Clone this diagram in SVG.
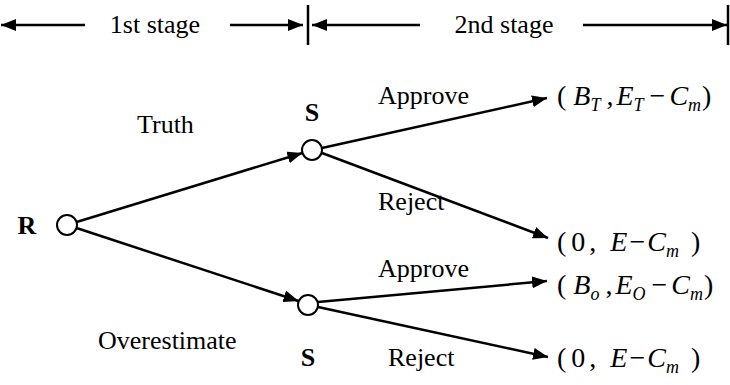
<svg xmlns="http://www.w3.org/2000/svg" width="730" height="385" viewBox="0 0 730 385">
<style>
text{font-family:"Liberation Serif","Times New Roman",serif;font-size:26px;fill:#000}
.b{font-weight:bold}
.i{font-style:italic}
.pay{font-size:28px}
.sub{font-size:18px;font-style:italic}
.ln{stroke:#000;stroke-width:2.5;fill:none}
.nd{fill:#fff;stroke:#000;stroke-width:2}
</style>
<defs>
<marker id="ah" markerUnits="userSpaceOnUse" markerWidth="16" markerHeight="12" refX="15" refY="6" orient="auto">
<path d="M0,0 L15,6 L0,12 Z" fill="#000"/>
</marker>
</defs>
<g id="stages">
<line class="ln" x1="85" y1="25" x2="1" y2="25" marker-end="url(#ah)"/>
<text x="155" y="33" text-anchor="middle">1st stage</text>
<line class="ln" x1="230" y1="25" x2="303" y2="25" marker-end="url(#ah)"/>
<line class="ln" x1="308" y1="5" x2="308" y2="45"/>
<line class="ln" x1="420" y1="25" x2="312" y2="25" marker-end="url(#ah)"/>
<text x="504" y="33" text-anchor="middle">2nd stage</text>
<line class="ln" x1="583" y1="25" x2="727" y2="25" marker-end="url(#ah)"/>
<line class="ln" x1="728" y1="5" x2="728" y2="45"/>
</g>
<g id="connectors">
<line class="ln" x1="76.6" y1="222" x2="302.4" y2="153" marker-end="url(#ah)"/>
<line class="ln" x1="76.5" y1="228" x2="298.5" y2="301" marker-end="url(#ah)"/>
<line class="ln" x1="322" y1="148" x2="547" y2="98" marker-end="url(#ah)"/>
<line class="ln" x1="322" y1="153" x2="548" y2="238" marker-end="url(#ah)"/>
<line class="ln" x1="318" y1="302" x2="547" y2="281" marker-end="url(#ah)"/>
<line class="ln" x1="318" y1="307" x2="548" y2="357" marker-end="url(#ah)"/>
<text x="137" y="133">Truth</text>
<text x="378" y="104">Approve</text>
<text x="378" y="210">Reject</text>
<text x="378" y="277">Approve</text>
<text x="98" y="349">Overestimate</text>
<text x="388" y="366">Reject</text>
</g>
<g id="node-R">
<circle class="nd" cx="67" cy="225" r="10"/>
<text class="b" x="27" y="234" text-anchor="middle">R</text>
</g>
<g id="node-S1">
<circle class="nd" cx="312" cy="150" r="10"/>
<text class="b" x="312" y="121" text-anchor="middle">S</text>
</g>
<g id="node-S2">
<circle class="nd" cx="308" cy="305" r="10"/>
<text class="b" x="308" y="366" text-anchor="middle">S</text>
</g>
<g id="payoff-1">
<text class="pay" x="557" y="105">(<tspan dx="7" class="i">B</tspan><tspan class="sub" dy="6">T</tspan><tspan dy="-6" dx="6">,</tspan><tspan dx="3" class="i">E</tspan><tspan class="sub" dy="6">T</tspan><tspan dy="-6" dx="6">−</tspan><tspan dx="4" class="i">C</tspan><tspan class="sub" dy="6">m</tspan><tspan dy="-6" dx="1">)</tspan></text>
</g>
<g id="payoff-2">
<text class="pay" x="557" y="251">(<tspan dx="5">0</tspan><tspan dx="4">,</tspan><tspan dx="14" class="i">E</tspan><tspan dx="2">−</tspan><tspan dx="2" class="i">C</tspan><tspan class="sub" dy="6">m</tspan><tspan dy="-6" dx="12">)</tspan></text>
</g>
<g id="payoff-3">
<text class="pay" x="557" y="294">(<tspan dx="7" class="i">B</tspan><tspan class="sub" dy="6">o</tspan><tspan dy="-6" dx="6">,</tspan><tspan dx="3" class="i">E</tspan><tspan class="sub" dy="6">O</tspan><tspan dy="-6" dx="6">−</tspan><tspan dx="4" class="i">C</tspan><tspan class="sub" dy="6">m</tspan><tspan dy="-6" dx="1">)</tspan></text>
</g>
<g id="payoff-4">
<text class="pay" x="557" y="367">(<tspan dx="5">0</tspan><tspan dx="4">,</tspan><tspan dx="14" class="i">E</tspan><tspan dx="2">−</tspan><tspan dx="2" class="i">C</tspan><tspan class="sub" dy="6">m</tspan><tspan dy="-6" dx="12">)</tspan></text>
</g>
</svg>
